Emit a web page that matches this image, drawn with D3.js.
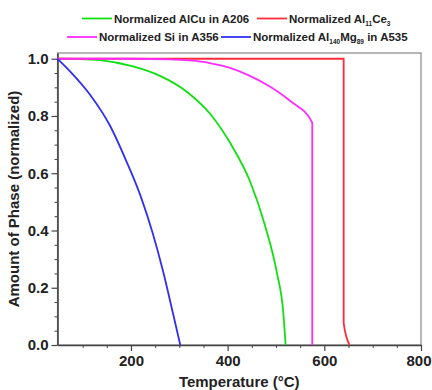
<!DOCTYPE html>
<html>
<head>
<meta charset="utf-8">
<script src="https://cdn.jsdelivr.net/npm/d3@7"></script>
<style>
  body { margin: 0; background: #fff; }
  text { font-family: Arial, "Liberation Sans", sans-serif; }
</style>
</head>
<body>
<svg id="chart" width="432" height="390"></svg>
<script>
// values (temperature in °C, normalized amount)
const alcuA206 = [[48,1],[94,0.999],[136,0.995],[204,0.973],[260,0.94],[316,0.884],[364,0.807],[409,0.695],[446,0.573],[477,0.419],[502,0.251],[515,0.115],[520,0]];
const al11ce3  = [[48,1],[640,1],[640,0.076],[652,0]];
const siA356   = [[48,1],[200,1],[280,0.998],[322,0.994],[363,0.985],[405,0.968],[446,0.94],[488,0.902],[529,0.853],[575,0.777],[575,0]];
const almgA535 = [[48,1],[74,0.956],[115,0.875],[157,0.765],[191,0.64],[220,0.52],[245,0.39],[266,0.26],[287,0.11],[302,0]];

const seriesData   = [alcuA206, al11ce3, siA356, almgA535];
const seriesColors = ["#10e010", "#ff2a3a", "#ff2cff", "#3030f0"];
// legend labels: [text, subscript?] pieces
const legendLabels = [
  [["Normalized AlCu in A206"]],
  [["Normalized Al"], ["11", true], ["Ce"], ["3", true]],
  [["Normalized Si in A356"]],
  [["Normalized Al"], ["140", true], ["Mg"], ["89", true], [" in A535"]]
];

const xMajor = [200, 400, 600, 800];
const yMajor = [0, 0.2, 0.4, 0.6, 0.8, 1.0];

const svg = d3.select("#chart");
const margin = {top: 53, right: 11, bottom: 45, left: 57.5};
const W = 432, H = 390;

const x = d3.scaleLinear().domain([48, 800]).range([margin.left, W - margin.right]);
const y = d3.scaleLinear().domain([0, 1.02]).range([H - margin.bottom, margin.top]);

// frame
svg.append("rect")
  .attr("x", margin.left).attr("y", margin.top)
  .attr("width", x.range()[1] - margin.left)
  .attr("height", y.range()[0] - margin.top)
  .attr("fill", "none").attr("stroke", "#888").attr("stroke-width", 1.2);

// minor ticks
const xMinor = d3.range(100, 800, 50).filter(v => !xMajor.includes(v));
const yMinor = d3.range(0.05, 1.0, 0.05).filter(v => Math.abs(v * 5 - Math.round(v * 5)) > 1e-6);

svg.append("g")
  .attr("transform", `translate(0,${y(0)})`)
  .call(d3.axisBottom(x).tickValues(xMinor).tickSize(3).tickFormat(""))
  .call(g => g.select(".domain").remove())
  .selectAll("line").attr("stroke", "#444");

svg.append("g")
  .attr("transform", `translate(${margin.left},0)`)
  .call(d3.axisLeft(y).tickValues(yMinor).tickSize(3).tickFormat(""))
  .call(g => g.select(".domain").remove())
  .selectAll("line").attr("stroke", "#444");

// major axes
const xAxis = svg.append("g")
  .attr("transform", `translate(0,${y(0)})`)
  .call(d3.axisBottom(x).tickValues(xMajor).tickSize(6).tickSizeOuter(0).tickPadding(4));
const yAxis = svg.append("g")
  .attr("transform", `translate(${margin.left},0)`)
  .call(d3.axisLeft(y).tickValues(yMajor).tickSize(6).tickSizeOuter(0).tickPadding(3).tickFormat(d3.format(".1f")));

[xAxis, yAxis].forEach(a => {
  a.select(".domain").attr("stroke", "#444").attr("stroke-width", 1.6);
  a.selectAll(".tick line").attr("stroke", "#444").attr("stroke-width", 1.2);
  a.selectAll(".tick text")
    .attr("font-size", 15).attr("font-weight", "bold").attr("fill", "#222")
    .style("font-family", "Arial, 'Liberation Sans', sans-serif");
});
// last label sits right at the page edge, nudge it in a bit
xAxis.selectAll(".tick text").filter(d => d === 800).attr("dx", -2.5);

// curves
const line = d3.line()
  .x(d => x(d[0]))
  .y(d => y(d[1]))
  .curve(d3.curveMonotoneX);

svg.append("g").selectAll("path")
  .data(seriesData)
  .join("path")
  .attr("d", line)
  .attr("fill", "none")
  .attr("stroke", (d, i) => seriesColors[i])
  .attr("stroke-width", 1.8);

// axis titles
svg.append("text")
  .attr("x", (x.range()[0] + x.range()[1]) / 2).attr("y", 387)
  .attr("text-anchor", "middle")
  .attr("font-size", 15).attr("font-weight", "bold").attr("fill", "#222")
  .text("Temperature (°C)");

svg.append("text")
  .attr("transform", `translate(19,199) rotate(-90)`)
  .attr("text-anchor", "middle")
  .attr("font-size", 15).attr("font-weight", "bold").attr("fill", "#222")
  .text("Amount of Phase (normalized)");

// legend, two rows
const legendPos = [[82, 18.5], [257, 18.5], [67, 37], [221, 37]];
const legend = svg.append("g");
legendLabels.forEach((parts, i) => {
  const [lx, ly] = legendPos[i];
  legend.append("line")
    .attr("x1", lx).attr("x2", lx + 30)
    .attr("y1", ly).attr("y2", ly)
    .attr("stroke", seriesColors[i]).attr("stroke-width", 1.8);
  const t = legend.append("text")
    .attr("x", lx + 32).attr("y", ly + 4)
    .attr("font-size", 11.5).attr("font-weight", "bold").attr("fill", "#222");
  parts.forEach(([s, sub]) => {
    const ts = t.append("tspan").text(s);
    if (sub) ts.attr("font-size", 6.5).attr("dy", 3);
    else if (t.selectAll("tspan").size() > 1) ts.attr("dy", -3);
  });
});
</script>
</body>
</html>
